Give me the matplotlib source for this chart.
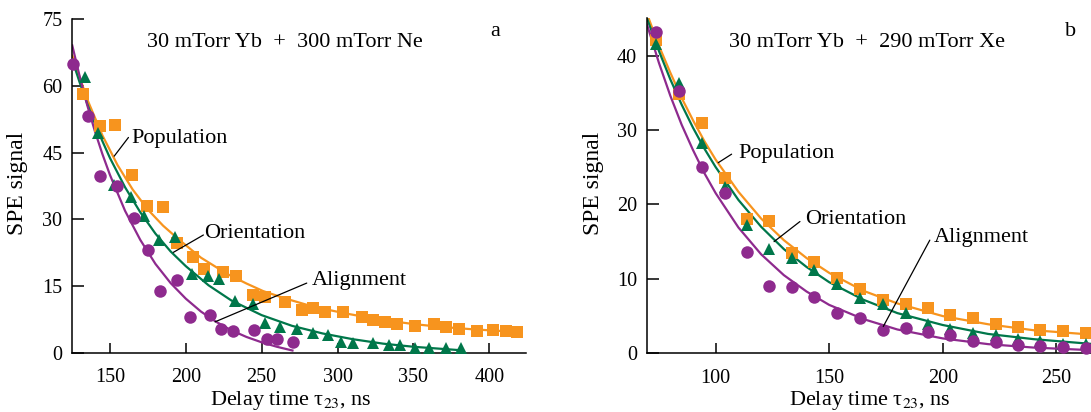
import matplotlib
matplotlib.use("Agg")
import matplotlib.pyplot as plt

plt.rcParams['font.family'] = ['Liberation Serif', 'DejaVu Serif']
plt.rcParams['mathtext.fontset'] = 'stix'

ORANGE = '#F7941E'
GREEN = '#00774A'
PURPLE = '#8E2A8E'

# ---------------- Panel a data (30 mTorr Yb + 300 mTorr Ne) ----------------
a_align_t = [125.6, 135.8, 143.5, 154.5, 165.9, 175.4, 183.1, 194.1, 202.5, 216.0,
             223.3, 230.8, 245.1, 253.4, 260.3, 270.9]
a_align_y = [65.0, 53.2, 39.8, 37.6, 30.3, 23.2, 13.9, 16.5, 8.0, 8.5,
             5.4, 5.0, 5.2, 3.1, 3.1, 2.5]

a_orient_t = [133.7, 142.4, 152.8, 163.6, 172.5, 182.6, 193.0, 203.8, 214.7, 222.1,
              232.5, 244.1, 252.2, 262.1, 273.1, 284.1, 293.9, 302.1, 310.0, 323.2,
              334.1, 341.4, 351.1, 360.3, 371.5, 381.2]
a_orient_y = [62.0, 49.4, 37.8, 35.1, 30.8, 25.4, 26.0, 17.8, 17.2, 16.6,
              11.7, 11.0, 6.8, 5.9, 5.3, 4.4, 4.0, 2.5, 2.2, 2.2,
              1.7, 1.9, 1.2, 1.2, 1.1, 1.1]

a_pop_t = [132.5, 143.5, 153.4, 164.4, 174.3, 185.2, 194.1, 204.6, 212.1, 224.8,
           233.0, 244.1, 252.2, 265.4, 276.4, 284.1, 291.8, 303.8, 315.9, 323.6,
           331.6, 339.2, 351.1, 363.4, 371.5, 380.2, 392.1, 402.6, 411.0, 418.4]
a_pop_y = [58.2, 51.0, 51.2, 40.0, 33.1, 32.8, 24.8, 21.5, 18.8, 18.2,
           17.4, 13.0, 12.5, 11.5, 9.7, 10.1, 9.3, 9.3, 8.0, 7.3,
           6.9, 6.4, 6.1, 6.5, 5.8, 5.3, 5.0, 5.2, 5.0, 4.7]

# fitted curves
a_align_fit_t = [125, 130, 135, 140, 145, 150, 160, 170, 180, 190, 200, 210, 220, 230,
                 240, 250, 260, 271]
a_align_fit_y = [69.3, 62.2, 55.7, 49.9, 44.7, 40.0, 31.9, 25.4, 20.0, 15.7, 12.2, 9.3,
                 7.0, 5.1, 3.6, 2.4, 1.4, 0.5]
a_orient_fit_t = [125, 130, 135, 140, 145, 150, 160, 170, 180, 190, 200, 215, 230, 250,
                  270, 290, 310, 330, 350, 382]
a_orient_fit_y = [66.0, 60.8, 56.0, 51.6, 47.6, 43.8, 37.2, 31.6, 26.8, 22.8, 19.5, 15.2,
                  11.8, 8.5, 6.1, 4.4, 3.1, 2.1, 1.4, 0.6]
a_pop_fit_t = [125, 135, 145, 155, 165, 175, 185, 195, 210, 227, 240, 251, 265, 284,
               305, 328, 350, 367, 390, 420]
a_pop_fit_y = [67.0, 57.0, 48.9, 42.2, 36.7, 32.2, 28.6, 25.6, 21.4, 17.8, 15.6, 13.9,
               12.3, 10.4, 8.9, 7.5, 6.5, 5.9, 5.3, 4.7]

# ---------------- Panel b data (30 mTorr Yb + 290 mTorr Xe) ----------------
b_t = [73.7, 83.8, 93.8, 104.0, 113.6, 123.6, 133.7, 143.5, 153.3, 163.5,
       173.8, 183.8, 193.6, 203.4, 213.4, 223.4, 233.2, 243.0, 253.0, 263.3]
b_pop_y = [42.1, 34.8, 30.9, 23.6, 18.1, 17.8, 13.5, 12.3, 10.1, 8.7,
           7.1, 6.6, 6.1, 5.1, 4.7, 3.9, 3.6, 3.1, 3.0, 2.7]
b_orient_y = [41.5, 36.3, 28.2, 22.3, 17.2, 14.0, 12.75, 11.2, 9.3, 7.4,
              6.6, 5.4, 3.9, 3.2, 2.7, 2.5, 1.9, 1.6, 1.3, 1.3]
b_align_y = [43.1, 35.2, 25.0, 21.5, 13.6, 9.1, 8.9, 7.5, 5.45, 4.8,
             3.1, 3.4, 2.9, 2.5, 1.7, 1.5, 1.1, 1.0, 0.9, 0.7]

b_fit_t = [69.6, 75, 80, 85, 90, 95, 100, 110, 120, 130, 140, 150, 165, 180, 200, 220,
           240, 266]
b_align_fit_y = [44.3, 39.0, 34.6, 30.7, 27.3, 24.2, 21.5, 16.9, 13.3, 10.5, 8.3, 6.5,
                 4.6, 3.2, 2.0, 1.23, 0.77, 0.41]
b_pop_fit_y = [45.7, 41.3, 37.7, 34.3, 31.3, 28.5, 26.0, 21.7, 18.1, 15.2, 12.8, 10.8,
               8.4, 6.7, 5.0, 3.9, 3.1, 2.5]
b_orient_fit_y = [45.1, 40.6, 36.8, 33.4, 30.3, 27.5, 25.0, 20.6, 17.0, 14.0, 11.6, 9.55,
                  7.2, 5.4, 3.8, 2.6, 1.9, 1.25]

a_xticks = [150, 200, 250, 300, 350, 400]
a_yticks = [0, 15, 30, 45, 60, 75]
b_xticks = [100, 150, 200, 250]
b_yticks = [0, 10, 20, 30, 40]

fig = plt.figure(figsize=(10.91, 4.12), dpi=100)
W, H = 1091.0, 412.0
ax_a = fig.add_axes([72 / W, (H - 353) / H, (525.7 - 72) / W, (353 - 19) / H])
ax_b = fig.add_axes([646.7 / W, (H - 353.3) / H, (1091 - 646.7) / W, (353.3 - 18.3) / H])

LW = 1.6
MS = 9.0


def style(ax):
    for s in ['top', 'right']:
        ax.spines[s].set_visible(False)
    for s in ['left', 'bottom']:
        ax.spines[s].set_linewidth(1.1)
    ax.tick_params(axis='both', direction='in', width=1.1, labelsize=14.5, colors='black')
    ax.tick_params(axis='y', length=8.5, pad=7)
    ax.tick_params(axis='x', length=7.5, pad=11)


def draw(ax, lines, marks):
    for (t, y, c) in lines:
        ax.plot(t, y, '-', color=c, lw=LW, zorder=2, solid_capstyle='butt')
    for (t, y, c, m, ms) in marks:
        ax.plot(t, y, linestyle='none', marker=m, color=c, markersize=ms,
                markeredgewidth=0, zorder=3, clip_on=False)


draw(ax_a,
     [(a_pop_fit_t, a_pop_fit_y, ORANGE), (a_orient_fit_t, a_orient_fit_y, GREEN),
      (a_align_fit_t, a_align_fit_y, PURPLE)],
     [(a_pop_t, a_pop_y, ORANGE, 's', 8.6), (a_orient_t, a_orient_y, GREEN, '^', MS),
      (a_align_t, a_align_y, PURPLE, 'o', MS)])
draw(ax_b,
     [(b_fit_t, b_pop_fit_y, ORANGE), (b_fit_t, b_orient_fit_y, GREEN),
      (b_fit_t, b_align_fit_y, PURPLE)],
     [(b_t, b_pop_y, ORANGE, 's', 8.6), (b_t, b_orient_y, GREEN, '^', MS),
      (b_t, b_align_y, PURPLE, 'o', MS)])

ax_a.set_xlim(125, 424)
ax_a.set_ylim(0, 75)
ax_a.set_xticks(a_xticks)
ax_a.set_yticks(a_yticks)
ax_b.set_xlim(69.6, 265.3)
ax_b.set_ylim(0, 45)
ax_b.set_xticks(b_xticks)
ax_b.set_yticks(b_yticks)
style(ax_a)
style(ax_b)

FS = 16
arrow = dict(arrowstyle='-', color='black', lw=0.9, shrinkA=0, shrinkB=0)


def label(ax, text, txy, start, tip):
    ax.text(txy[0], txy[1], text, fontsize=FS, ha='left', va='baseline', zorder=5)
    ax.annotate('', xy=tip, xytext=start, arrowprops=arrow, zorder=4)


label(ax_a, 'Population', (164.4, 47.2), (162.2, 48.4), (152.8, 44.2))
label(ax_a, 'Orientation', (212.1, 25.8), (211.6, 26.5), (191.8, 22.6))
label(ax_a, 'Alignment', (282.8, 15.3), (279.7, 15.7), (219.3, 7.0))

label(ax_b, 'Population', (109.9, 26.2), (107.0, 26.75), (101.1, 25.6))
label(ax_b, 'Orientation', (139.3, 17.36), (137.1, 17.7), (125.7, 15.0))
label(ax_b, 'Alignment', (196.1, 14.9), (194.3, 15.2), (173.8, 3.6))

ax_a.text(0.166, 0.917, '30 mTorr Yb  +  300 mTorr Ne', transform=ax_a.transAxes,
          fontsize=FS, ha='left', va='baseline')
ax_a.text(0.921, 0.949, 'a', transform=ax_a.transAxes, fontsize=FS, ha='left', va='baseline')
ax_b.text(0.186, 0.914, '30 mTorr Yb  +  290 mTorr Xe', transform=ax_b.transAxes,
          fontsize=FS, ha='left', va='baseline')
ax_b.text(0.9415, 0.948, 'b', transform=ax_b.transAxes, fontsize=FS, ha='left', va='baseline')

# axis labels
fig.text(18 / W, 1 - 183 / H, 'SPE signal', rotation=90, fontsize=17, ha='center', va='center')
fig.text(593 / W, 1 - 183 / H, 'SPE signal', rotation=90, fontsize=17, ha='center', va='center')
xl = 'Delay time τ$_{23}$, ns'
fig.text(290.5 / W, (H - 405) / H, xl, fontsize=FS, ha='center', va='baseline')
fig.text(870 / W, (H - 405) / H, xl, fontsize=FS, ha='center', va='baseline')

fig.savefig('out.png', dpi=100)
